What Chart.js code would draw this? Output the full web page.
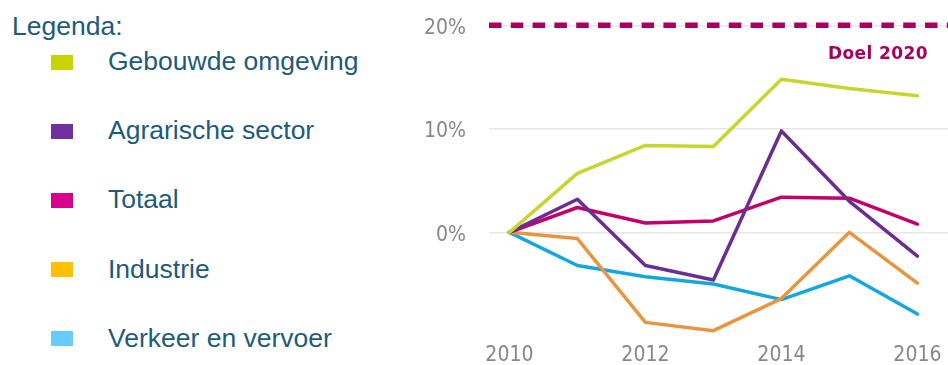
<!DOCTYPE html>
<html>
<head>
<meta charset="utf-8">
<script src="https://cdn.jsdelivr.net/npm/chart.js@4/dist/chart.umd.min.js"></script>
<style>
  html, body { margin: 0; padding: 0; background: #ffffff; width: 948px; height: 365px; overflow: hidden; }
  #legend { position: absolute; left: 0; top: 0; width: 400px; height: 365px;
            font-family: "Liberation Sans", Arial, sans-serif; color: #1d5b7b; }
  #legend .title { position: absolute; left: 12px; top: 11px; font-size: 26.5px; line-height: 30px; white-space: nowrap; }
  #legend .row { position: absolute; left: 0; height: 30px; font-size: 26.5px; line-height: 30px; white-space: nowrap; }
  #legend .sw { position: absolute; left: 51px; top: 8.5px; width: 22px; height: 15px; }
  #legend .lbl { position: absolute; left: 108px; top: 0; }
  #wrap { position: absolute; left: 400px; top: 0; width: 548px; height: 365px; }
</style>
</head>
<body>
<div id="legend"><div class="title">Legenda:</div></div>
<div id="wrap"><canvas id="chart" width="548" height="365"></canvas></div>
<script>
// Year-on-year change relative to 2010, in percent
const years = [2010, 2011, 2012, 2013, 2014, 2015, 2016];
const gebouwdeOmgeving = [0, 5.7, 8.4, 8.3, 14.8, 13.9, 13.2];
const agrarischeSector = [0, 3.2, -3.2, -4.6, 9.8, 3.0, -2.3];
const totaal           = [0, 2.4, 0.9, 1.1, 3.4, 3.3, 0.8];
const industrie        = [0, -0.6, -8.7, -9.5, -6.4, 0, -4.9];
const verkeerEnVervoer = [0, -3.2, -4.3, -5.0, -6.5, -4.2, -7.9];
const seriesNames = ['Gebouwde omgeving', 'Agrarische sector', 'Totaal', 'Industrie', 'Verkeer en vervoer'];
const doel2020 = 20;
const doelLabel = 'Doel 2020';
const yTicks = [0, 10, 20];
const xTicks = [2010, 2012, 2014, 2016];

const seriesValues = [gebouwdeOmgeving, agrarischeSector, totaal, industrie, verkeerEnVervoer];
const lineColors   = ['#c5d62e', '#6c2d90', '#c2006c', '#e8953f', '#14a6e0'];
const swatchColors = ['#c8d400', '#7030a0', '#d9008c', '#ffc000', '#66ccff'];
const doelColor = '#a8005f';

// Legend on the left
const legend = document.getElementById('legend');
seriesNames.forEach((name, i) => {
  const row = document.createElement('div');
  row.className = 'row';
  row.style.top = (46 + i * 69.2) + 'px';
  const sw = document.createElement('div');
  sw.className = 'sw';
  sw.style.background = swatchColors[i];
  const lbl = document.createElement('div');
  lbl.className = 'lbl';
  lbl.textContent = name;
  row.appendChild(sw);
  row.appendChild(lbl);
  legend.appendChild(row);
});

const tickFont = { family: '"DejaVu Sans Condensed", "DejaVu Sans", sans-serif', size: 21 };
const tickColor = '#878787';
const xMin = 2009.70, xMax = 2016.45;

const datasets = seriesNames.map((name, i) => ({
  label: name,
  data: years.map((yr, k) => ({ x: yr, y: seriesValues[i][k] })),
  borderColor: lineColors[i],
  backgroundColor: lineColors[i],
  borderWidth: 3.5,
  pointRadius: 0,
  tension: 0,
  borderJoinStyle: 'round',
  borderCapStyle: 'round',
  fill: false
}));
datasets.push({
  label: doelLabel,
  data: [{ x: xMin, y: doel2020 }, { x: xMax, y: doel2020 }],
  borderColor: doelColor,
  borderWidth: 5.5,
  borderDash: [12.5, 9.3],
  borderCapStyle: 'butt',
  pointRadius: 0,
  fill: false
});

// Caption under the target line
const doelText = {
  id: 'doelText',
  afterDatasetsDraw(chart) {
    const { ctx, chartArea, scales } = chart;
    const y = scales.y.getPixelForValue(doel2020) + 29;
    ctx.save();
    ctx.font = 'bold 17px "DejaVu Sans", sans-serif';
    ctx.fillStyle = doelColor;
    ctx.textAlign = 'right';
    ctx.textBaseline = 'middle';
    if ('letterSpacing' in ctx) ctx.letterSpacing = '0.4px';
    ctx.fillText(doelLabel, chartArea.right - 20, y);
    ctx.restore();
  }
};

new Chart(document.getElementById('chart'), {
  type: 'line',
  data: { datasets },
  plugins: [doelText],
  options: {
    responsive: false,
    animation: false,
    devicePixelRatio: 1,
    layout: { padding: { top: 15, right: 0, bottom: 0, left: 0 } },
    plugins: { legend: { display: false }, tooltip: { enabled: false } },
    scales: {
      x: {
        type: 'linear',
        min: xMin,
        max: xMax,
        grid: { display: false, drawTicks: false },
        border: { display: false },
        afterBuildTicks: s => { s.ticks = xTicks.map(v => ({ value: v })); },
        afterFit: s => { s.height = 24; s.paddingLeft = 0; s.paddingRight = 0; },
        ticks: { padding: 2, color: tickColor, font: tickFont, maxRotation: 0, autoSkip: false,
                 callback: v => String(v) }
      },
      y: {
        type: 'linear',
        min: -10.5,
        max: 21,
        grid: { color: '#e6e6e6', lineWidth: 1.5, drawTicks: false },
        border: { display: false },
        afterBuildTicks: s => { s.ticks = yTicks.map(v => ({ value: v })); },
        afterFit: s => { s.width = 89; s.paddingTop = 0; s.paddingBottom = 0; },
        ticks: { padding: 23, labelOffset: 3, color: tickColor, font: tickFont, callback: v => v + '%' }
      }
    }
  }
});
</script>
</body>
</html>
